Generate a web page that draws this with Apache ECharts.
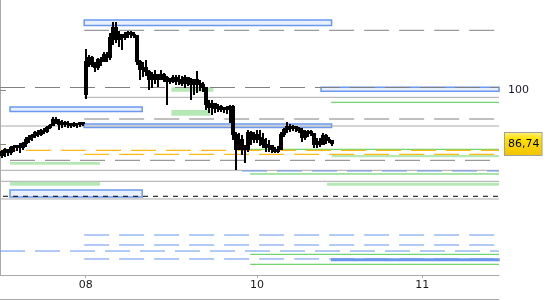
<!DOCTYPE html>
<html>
<head>
<meta charset="utf-8">
<script src="https://cdn.jsdelivr.net/npm/echarts@6/dist/echarts.min.js"></script>
<style>html,body{margin:0;padding:0;background:#fff}#c{width:550px;height:300px}</style>
</head>
<body>
<div id="c"></div>
<script>
// ---- data ----
var dayLabels = ['08', '10', '11'];
var dayStartBar = [28, 85, 140];
var barCount = 166;
var openP  = [83.79,84.77,85.26,84.52,85.75,86.00,86.24,85.75,86.74,87.72,88.21,88.70,89.44,88.94,89.93,89.68,90.66,91.15,92.63,92.14,91.40,91.89,91.40,91.65,91.15,91.65,91.40,91.89,
  98.77,106.87,107.86,106.14,105.40,107.36,106.87,108.59,107.86,112.77,115.22,112.28,113.50,112.77,113.50,114.00,113.50,113.26,106.87,104.91,105.40,104.42,102.45,102.94,103.68,102.45,103.68,102.94,101.96,102.45,102.94,101.96,102.45,101.47,102.94,101.96,101.22,102.45,101.47,101.22,100.49,96.31,95.58,96.56,95.33,95.82,95.08,95.58,95.08,95.82,
  88.94,85.26,87.72,85.75,85.26,89.44,87.72,88.94,88.21,87.72,86.49,85.75,86.24,85.26,84.77,85.26,88.94,90.17,90.91,90.42,90.91,90.42,89.93,88.21,89.19,89.68,89.19,86.49,87.23,86.49,88.70,87.72,87.47];
var closeP = [84.77,85.26,84.52,85.75,86.00,86.24,85.75,86.74,87.72,88.21,88.70,89.44,88.94,89.93,89.68,90.66,91.15,92.63,92.14,91.40,91.89,91.40,91.65,91.15,91.65,91.40,91.89,91.65,
  106.87,107.86,106.14,105.40,107.36,106.87,108.59,107.86,112.77,115.22,112.28,113.50,112.77,113.50,114.00,113.50,113.26,106.87,104.91,105.40,104.42,102.45,102.94,103.68,102.45,103.68,102.94,101.96,102.45,102.94,101.96,102.45,101.47,102.94,101.96,101.22,102.45,101.47,101.22,100.49,96.31,95.58,96.56,95.33,95.82,95.08,95.58,95.08,95.82,88.94,
  85.26,87.72,85.75,85.26,89.44,87.72,88.94,88.21,87.72,86.49,85.75,86.24,85.26,84.77,85.26,88.94,90.17,90.91,90.42,90.91,90.42,89.93,88.21,89.19,89.68,89.19,86.49,87.23,86.49,88.70,87.72,87.47,86.74];
var lowP   = [83.30,83.54,83.79,84.03,84.77,85.02,84.52,85.26,86.00,86.98,87.47,88.21,88.45,88.70,89.19,89.44,90.42,91.15,91.65,90.17,90.66,90.91,90.66,90.66,90.91,90.66,90.91,91.15,
  97.79,105.64,105.64,104.42,104.91,105.89,106.87,106.87,107.36,111.05,111.54,110.56,109.82,112.28,112.77,112.77,112.77,106.14,102.45,103.19,103.43,100.00,100.49,101.47,100.73,102.45,101.96,96.31,101.47,101.72,101.22,101.22,100.98,100.49,100.98,97.54,98.77,99.26,99.75,99.50,95.08,94.35,93.86,94.35,94.59,94.59,94.35,94.10,91.89,87.72,
  80.35,85.26,84.03,82.07,84.77,86.49,86.98,86.98,86.24,85.75,84.77,84.77,84.52,84.52,84.52,85.26,88.45,89.44,89.68,89.93,89.68,89.44,87.23,87.72,88.45,88.70,85.75,85.75,86.00,86.49,86.74,86.98,86.24];
var highP  = [85.26,85.75,85.51,86.24,86.49,86.49,86.98,87.23,88.45,88.94,89.19,89.93,90.17,90.42,90.66,91.15,91.65,93.37,93.37,92.87,92.63,92.38,92.38,91.89,92.14,91.89,92.14,92.14,
  110.07,108.59,108.35,106.87,107.86,108.10,109.33,109.33,114.00,116.70,116.70,114.49,113.50,114.24,114.49,114.49,114.24,113.50,107.36,106.87,107.36,104.91,104.42,104.91,103.68,104.91,104.17,103.43,102.94,103.68,103.68,103.68,103.43,103.68,103.19,102.94,102.45,104.66,102.45,101.96,100.73,97.54,97.54,96.80,96.56,96.31,95.82,96.07,96.31,96.31,
  89.68,89.44,88.94,86.49,90.17,89.93,89.68,90.17,90.17,89.44,88.21,87.72,86.49,86.00,86.24,89.68,90.66,92.14,91.65,91.40,91.15,90.91,90.66,90.17,90.17,90.17,89.44,88.21,88.21,89.44,89.19,88.45,87.72];

// horizontal levels: [price, startBar]
var grayDashedLevels = [[114.66, 28], [100.61, 0], [92.87, 28], [82.73, 3.33]];
var graySolidLevels  = [[98.20, 28], [91.15, 0], [80.27, 0], [77.57, 0], [73.23, 0]];
var greenLevels      = [[96.98, 110.1], [85.43, 83.2], [79.37, 83.2], [59.64, 83.2], [57.19, 83.2]];
var orangeLevels     = [[85.19, 0], [84.20, 28]];
var blueDashedLevels = [[80.10, 80.5], [64.38, 28], [61.93, 28], [60.45, 0], [58.49, 28]];
var blackDashedLevels = [[73.89, 0]];
// zones: [startBar, endBar, upperPrice, lowerPrice]
var blueZones  = [[28, 110.3, 117.19, 115.84], [106.8, 166, 100.66, 99.68], [3.33, 47.3, 95.83, 94.72],
                  [28, 110.3, 91.65, 90.79], [3.33, 47.3, 75.44, 73.72], [110.3, 166, 58.49, 58.13]];
var greenZones = [[57, 71, 100.66, 99.58], [57, 70, 95.09, 93.69], [110.3, 166, 84.04, 83.47],
                  [3.33, 33.3, 82.32, 81.66], [3.33, 33.3, 77.41, 76.50], [108.8, 166, 77.24, 76.50]];
var axisLevel = 100;

// ---- build ----
var lastPrice = closeP[closeP.length - 1];
var ohlc = openP.map(function (o, i) { return [i + 0.5, o, closeP[i], lowP[i], highP[i]]; });
var FONT = 'DejaVu Sans';

function levelSeries(levels, color, type, width, offset) {
  return levels.map(function (l) {
    return {
      type: 'line', silent: true, symbol: 'none', animation: false, z: 2,
      data: [[l[1], l[0]], [barCount, l[0]]],
      lineStyle: { color: color, width: width, type: type, dashOffset: offset || 0 }
    };
  });
}
function zoneSeries(zones, fill, stroke) {
  return {
    type: 'custom', silent: true, animation: false, z: 1,
    data: zones,
    renderItem: function (params, api) {
      var p0 = api.coord([api.value(0), api.value(2)]);
      var p1 = api.coord([api.value(1), api.value(3)]);
      return {
        type: 'rect',
        shape: { x: p0[0], y: p0[1], width: p1[0] - p0[0], height: p1[1] - p0[1] },
        style: { fill: fill, stroke: stroke, lineWidth: stroke ? 1.5 : 0 }
      };
    }
  };
}

var series = [];
series.push(zoneSeries(blueZones, '#e8effd', '#6a98ee'));
series.push(zoneSeries(greenZones, '#b5e8b5', null));
series = series.concat(levelSeries(graySolidLevels, '#aaaaaa', 'solid', 1));
series = series.concat(levelSeries(grayDashedLevels, '#808080', [25, 10], 1));
series = series.concat(levelSeries(greenLevels, '#4ccc4c', 'solid', 1));
series = series.concat(levelSeries(orangeLevels.slice(0, 1), '#ffb914', [25, 10], 1.2, 9));
series = series.concat(levelSeries(orangeLevels.slice(1), '#ffb914', [25, 10], 1.2, 0));
series = series.concat(levelSeries(blueDashedLevels, '#6495ed', [25, 10], 1));
series = series.concat(levelSeries(blackDashedLevels, '#000000', [5, 5], 1, 7));
series.push({
  type: 'custom', animation: false, z: 5,
  data: ohlc,
  renderItem: function (params, api) {
    var x = api.value(0);
    var yO = Math.round(api.coord([x, api.value(1)])[1]);
    var yC = Math.round(api.coord([x, api.value(2)])[1]);
    var yL = Math.round(api.coord([x, api.value(3)])[1]);
    var yH = Math.round(api.coord([x, api.value(4)])[1]);
    var cx = Math.round(api.coord([x, 0])[0]);
    var st = { fill: '#000' };
    var top = Math.min(yO, yC), bot = Math.max(yO, yC);
    return {
      type: 'group',
      children: [
        { type: 'rect', shape: { x: cx - 1, y: yH, width: 2, height: Math.max(2, yL - yH) }, style: st },
        { type: 'rect', shape: { x: cx - 2, y: top - 1, width: 4, height: Math.max(2, bot - top + 1) }, style: st }
      ]
    };
  }
});

var chart = echarts.init(document.getElementById('c'), null, { renderer: 'canvas' });
chart.setOption({
  animation: false,
  grid: { left: 0, right: 51, top: 0, bottom: 25, containLabel: false },
  xAxis: {
    type: 'value', min: 0, max: barCount,
    axisLine: { show: true, lineStyle: { color: '#aaaaaa', width: 1 } },
    axisTick: { show: true, length: 3, lineStyle: { color: '#aaaaaa' },
      customValues: dayStartBar.map(function (b) { return b + 0.5; }) },
    axisLabel: {
      customValues: dayStartBar.map(function (b) { return b + 0.5; }),
      formatter: function (v) { var k = dayStartBar.indexOf(Math.round(v - 0.5)); return k >= 0 ? dayLabels[k] : ''; },
      color: '#1a1a1a', fontFamily: FONT, fontSize: 11, margin: 5
    },
    splitLine: { show: false }
  },
  yAxis: {
    type: 'value', position: 'right', min: 54.56, max: 122.10,
    axisLine: { show: true, lineStyle: { color: '#aaaaaa', width: 1 } },
    axisTick: { show: true, length: 6, lineStyle: { color: '#888888' }, customValues: [axisLevel, lastPrice] },
    axisLabel: {
      customValues: [axisLevel, lastPrice],
      formatter: function (v) {
        if (Math.abs(v - lastPrice) < 1e-6) return '{p|' + lastPrice.toFixed(2).replace('.', ',') + '}';
        return '{n|' + v + '}';
      },
      color: '#1a1a2a', fontFamily: FONT, fontSize: 11, margin: 6,
      rich: {
        n: { fontFamily: FONT, fontSize: 11, color: '#1a1a2a', padding: [0, 0, 0, 3] },
        p: {
          fontFamily: FONT, fontSize: 11, color: '#000',
          backgroundColor: { type: 'linear', x: 0, y: 0, x2: 0, y2: 1,
            colorStops: [{ offset: 0, color: '#fff080' }, { offset: 0.3, color: '#ffe000' }, { offset: 1, color: '#f2c200' }] },
          borderColor: '#a0a0a0', borderWidth: 1, padding: [6, 2, 5, 3]
        }
      }
    },
    splitLine: { show: false }
  },
  graphic: [
    { type: 'line', shape: { x1: 0, y1: 299.5, x2: 499, y2: 299.5 }, style: { stroke: '#aaaaaa', lineWidth: 1 }, silent: true }
  ],
  series: series
});
</script>
</body>
</html>
